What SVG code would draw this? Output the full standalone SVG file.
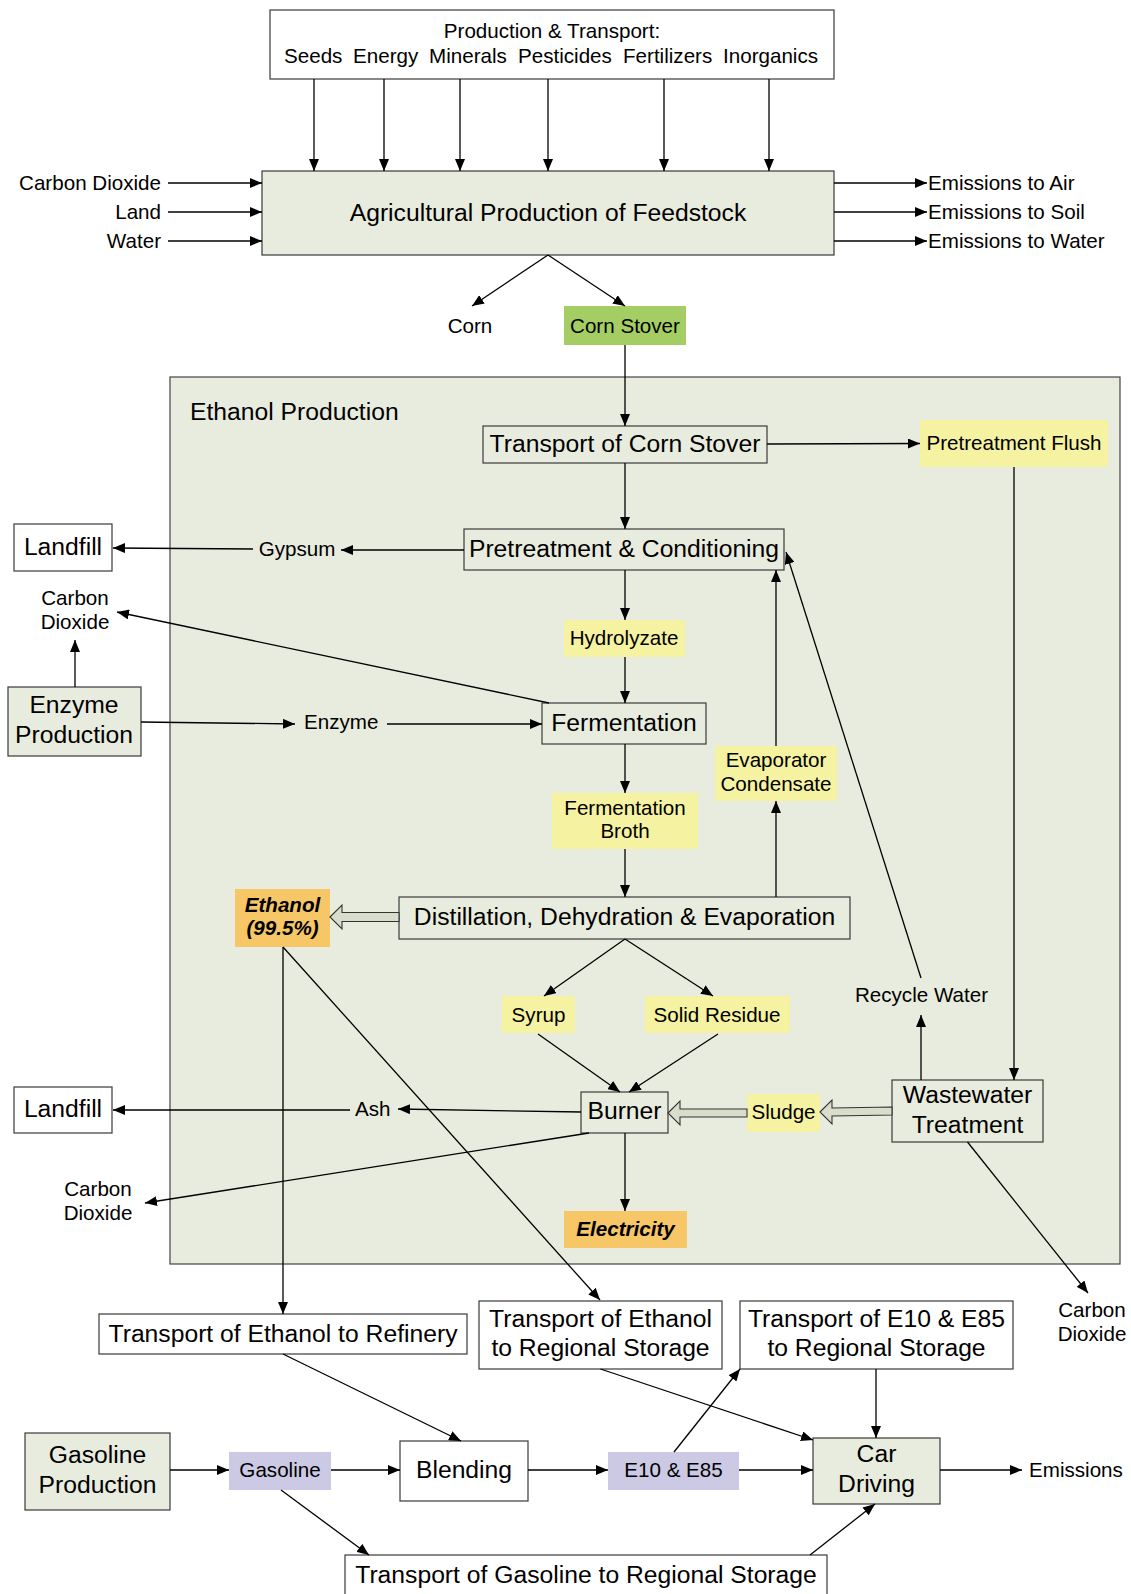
<svg xmlns="http://www.w3.org/2000/svg" width="1131" height="1594" viewBox="0 0 1131 1594">
<style>
text{font-family:"Liberation Sans",Arial,sans-serif;fill:#000}
.s{font-size:20.6px}
.b{font-size:24.7px}
.c{text-anchor:middle}
.r{text-anchor:end}
.bi{font-weight:bold;font-style:italic}
.box{stroke:#3a3a3a;stroke-width:1.2}
.w{fill:#fff}
.g{fill:#e8ecde}
.y{fill:#f5f2a1}
.gr{fill:#a4ce63}
.o{fill:#f7c667}
.p{fill:#ccc9e4}
.ln{stroke:#000;stroke-width:1.3;fill:none}
.ar{marker-end:url(#ah)}
.blk{fill:#d9ddcb;stroke:#333;stroke-width:1.1}
</style>
<defs>
<marker id="ah" viewBox="0 0 12 10" refX="12" refY="5" markerWidth="12" markerHeight="10" orient="auto" markerUnits="userSpaceOnUse">
<path d="M0,0 L12,5 L0,10 z" fill="#000"/>
</marker>
</defs>
<rect width="1131" height="1594" fill="#fff"/>

<g id="ethanol-production">
<rect x="170" y="377" width="950" height="887" class="g" stroke="#444" stroke-width="1.2"/>
<text x="190" y="420" class="b">Ethanol Production</text>
</g>

<g id="inputs-top">
<rect x="270" y="10" width="564" height="69" class="box w"/>
<text x="552" y="38" class="s c">Production &amp; Transport:</text>
<text x="284" y="63" class="s">Seeds</text>
<text x="353" y="63" class="s">Energy</text>
<text x="429" y="63" class="s">Minerals</text>
<text x="518" y="63" class="s">Pesticides</text>
<text x="623" y="63" class="s">Fertilizers</text>
<text x="723" y="63" class="s">Inorganics</text>
</g>

<g id="agricultural-production">
<rect x="262" y="171" width="572" height="84" class="box g"/>
<text x="548" y="221" class="b c">Agricultural Production of Feedstock</text>
</g>

<g id="labels-left-top">
<text x="161" y="190" class="s r">Carbon Dioxide</text>
<text x="161" y="219" class="s r">Land</text>
<text x="161" y="248" class="s r">Water</text>
</g>
<g id="labels-right-top">
<text x="928" y="190" class="s">Emissions to Air</text>
<text x="928" y="219" class="s">Emissions to Soil</text>
<text x="928" y="248" class="s">Emissions to Water</text>
</g>

<g id="corn"><text x="470" y="333" class="s c">Corn</text></g>
<g id="corn-stover">
<rect x="564" y="306" width="122" height="39" class="gr"/>
<text x="625" y="333" class="s c">Corn Stover</text>
</g>

<g id="transport-corn-stover">
<rect x="483" y="426" width="284" height="37" class="box g"/>
<text x="625" y="452" class="b c">Transport of Corn Stover</text>
</g>
<g id="pretreatment-flush">
<rect x="920" y="420" width="188" height="47" class="y"/>
<text x="1014" y="450" class="s c">Pretreatment Flush</text>
</g>
<g id="pretreatment">
<rect x="464" y="529" width="320" height="41" class="box g"/>
<text x="624" y="557" class="b c">Pretreatment &amp; Conditioning</text>
</g>
<g id="gypsum"><text x="297" y="556" class="s c">Gypsum</text></g>
<g id="landfill-1">
<rect x="14" y="524" width="98" height="47" class="box w"/>
<text x="63" y="555" class="b c">Landfill</text>
</g>
<g id="co2-1">
<text x="75" y="605" class="s c">Carbon</text>
<text x="75" y="629" class="s c">Dioxide</text>
</g>
<g id="hydrolyzate">
<rect x="564" y="620" width="121" height="37" class="y"/>
<text x="624" y="645" class="s c">Hydrolyzate</text>
</g>
<g id="enzyme-production">
<rect x="8" y="687" width="133" height="69" class="box g"/>
<text x="74" y="713" class="b c">Enzyme</text>
<text x="74" y="743" class="b c">Production</text>
</g>
<g id="enzyme"><text x="304" y="729" class="s">Enzyme</text></g>
<g id="fermentation">
<rect x="542" y="703" width="164" height="41" class="box g"/>
<text x="624" y="731" class="b c">Fermentation</text>
</g>
<g id="evaporator-condensate">
<rect x="715" y="746" width="122" height="55" class="y"/>
<text x="776" y="767" class="s c">Evaporator</text>
<text x="776" y="791" class="s c">Condensate</text>
</g>
<g id="fermentation-broth">
<rect x="552" y="793" width="146" height="56" class="y"/>
<text x="625" y="815" class="s c">Fermentation</text>
<text x="625" y="838" class="s c">Broth</text>
</g>
<g id="ethanol">
<rect x="235" y="889" width="95" height="58" class="o"/>
<text x="282.5" y="912" class="s c bi">Ethanol</text>
<text x="282.5" y="935" class="s c bi">(99.5%)</text>
</g>
<g id="distillation">
<rect x="399" y="897" width="451" height="42" class="box g"/>
<text x="624.5" y="925" class="b c">Distillation, Dehydration &amp; Evaporation</text>
</g>
<g id="syrup">
<rect x="502" y="996" width="73" height="37" class="y"/>
<text x="538.5" y="1022" class="s c">Syrup</text>
</g>
<g id="solid-residue">
<rect x="645" y="996" width="145" height="37" class="y"/>
<text x="717" y="1022" class="s c">Solid Residue</text>
</g>
<g id="recycle-water"><text x="921.5" y="1002" class="s c">Recycle Water</text></g>
<g id="burner">
<rect x="581" y="1092" width="87" height="41" class="box g"/>
<text x="624.5" y="1119" class="b c">Burner</text>
</g>
<g id="sludge">
<rect x="747" y="1094" width="73" height="38" class="y"/>
<text x="783.5" y="1119" class="s c">Sludge</text>
</g>
<g id="wastewater">
<rect x="892" y="1080" width="151" height="62" class="box g"/>
<text x="967.5" y="1103" class="b c">Wastewater</text>
<text x="967.5" y="1133" class="b c">Treatment</text>
</g>
<g id="ash"><text x="355" y="1116" class="s">Ash</text></g>
<g id="landfill-2">
<rect x="14" y="1087" width="98" height="46" class="box w"/>
<text x="63" y="1117" class="b c">Landfill</text>
</g>
<g id="co2-2">
<text x="98" y="1196" class="s c">Carbon</text>
<text x="98" y="1220" class="s c">Dioxide</text>
</g>
<g id="electricity">
<rect x="564" y="1211" width="123" height="37" class="o"/>
<text x="625.5" y="1236" class="s c bi">Electricity</text>
</g>
<g id="co2-3">
<text x="1092" y="1317" class="s c">Carbon</text>
<text x="1092" y="1341" class="s c">Dioxide</text>
</g>

<g id="transport-refinery">
<rect x="99" y="1314" width="368" height="40" class="box w"/>
<text x="283" y="1342" class="b c">Transport of Ethanol to Refinery</text>
</g>
<g id="transport-ethanol-regional">
<rect x="479" y="1301" width="243" height="68" class="box w"/>
<text x="600.5" y="1327" class="b c">Transport of Ethanol</text>
<text x="600.5" y="1356" class="b c">to Regional Storage</text>
</g>
<g id="transport-e10">
<rect x="740" y="1301" width="273" height="68" class="box w"/>
<text x="876.5" y="1327" class="b c">Transport of E10 &amp; E85</text>
<text x="876.5" y="1356" class="b c">to Regional Storage</text>
</g>
<g id="gasoline-production">
<rect x="25" y="1433" width="145" height="77" class="box g"/>
<text x="97.5" y="1463" class="b c">Gasoline</text>
<text x="97.5" y="1493" class="b c">Production</text>
</g>
<g id="gasoline">
<rect x="229" y="1452" width="102" height="38" class="p"/>
<text x="280" y="1477" class="s c">Gasoline</text>
</g>
<g id="blending">
<rect x="400" y="1441" width="128" height="60" class="box w"/>
<text x="464" y="1478" class="b c">Blending</text>
</g>
<g id="e10-e85">
<rect x="608" y="1452" width="131" height="38" class="p"/>
<text x="673.5" y="1477" class="s c">E10 &amp; E85</text>
</g>
<g id="car-driving">
<rect x="813" y="1438" width="127" height="66" class="box g"/>
<text x="876.5" y="1462" class="b c">Car</text>
<text x="876.5" y="1492" class="b c">Driving</text>
</g>
<g id="emissions"><text x="1029" y="1477" class="s">Emissions</text></g>
<g id="transport-gasoline">
<rect x="345" y="1555" width="482" height="50" class="box w"/>
<text x="586" y="1583" class="b c">Transport of Gasoline to Regional Storage</text>
</g>

<g id="connectors">
<path class="ln ar" d="M314,79 V171"/>
<path class="ln ar" d="M384,79 V171"/>
<path class="ln ar" d="M460,79 V171"/>
<path class="ln ar" d="M548,79 V171"/>
<path class="ln ar" d="M664,79 V171"/>
<path class="ln ar" d="M769,79 V171"/>
<path class="ln ar" d="M168,183 H262"/>
<path class="ln ar" d="M168,212 H262"/>
<path class="ln ar" d="M168,241 H262"/>
<path class="ln ar" d="M834,183 H927"/>
<path class="ln ar" d="M834,212 H927"/>
<path class="ln ar" d="M834,241 H927"/>
<path class="ln ar" d="M548,255 L472,306"/>
<path class="ln ar" d="M548,255 L625,306"/>
<path class="ln ar" d="M625,345 V426"/>
<path class="ln ar" d="M767,444 L920,443.5"/>
<path class="ln ar" d="M625,463 V529"/>
<path class="ln ar" d="M464,550 H341"/>
<path class="ln ar" d="M253,549 L113,548"/>
<path class="ln ar" d="M625,570 V620"/>
<path class="ln ar" d="M625,657 V703"/>
<path class="ln ar" d="M549,703 L117,612"/>
<path class="ln ar" d="M75,687 V640"/>
<path class="ln ar" d="M141,722 L295,724"/>
<path class="ln ar" d="M387,724 H542"/>
<path class="ln ar" d="M625,744 V793"/>
<path class="ln ar" d="M625,849 V897"/>
<path class="ln ar" d="M776,897 V801"/>
<path class="ln ar" d="M776,746 V570"/>
<path class="ln ar" d="M921,978 L786,552"/>
<path class="ln ar" d="M1014,467 V1080"/>
<path class="ln ar" d="M921,1080 V1015"/>
<path class="ln ar" d="M625,939 L544,996"/>
<path class="ln ar" d="M625,939 L713,996"/>
<path class="ln ar" d="M538,1034 L620,1092"/>
<path class="ln ar" d="M718,1034 L629,1092"/>
<path class="ln ar" d="M581,1112 L398,1109"/>
<path class="ln ar" d="M350,1110 H113"/>
<path class="ln ar" d="M589,1133 L145,1203"/>
<path class="ln ar" d="M625,1133 V1211"/>
<path class="ln ar" d="M967.5,1142 L1088,1293"/>
<path class="ln ar" d="M283,947 V1314"/>
<path class="ln ar" d="M283,947 L600,1300"/>
<path class="ln ar" d="M283,1354 L461,1441"/>
<path class="ln ar" d="M600.5,1369 L813,1440"/>
<path class="ln ar" d="M674,1452 L740,1369"/>
<path class="ln ar" d="M876,1369 V1438"/>
<path class="ln ar" d="M170,1470 H229"/>
<path class="ln ar" d="M331,1470 H400"/>
<path class="ln ar" d="M528,1470 H608"/>
<path class="ln ar" d="M739,1470 H813"/>
<path class="ln ar" d="M940,1470 H1022"/>
<path class="ln ar" d="M281,1490 L369,1555"/>
<path class="ln ar" d="M810,1555 L875,1504"/>
<polygon class="blk" points="330,917 342,905 342,912.5 399,912.5 399,921.5 342,921.5 342,929"/>
<polygon class="blk" points="668,1113 680,1101 680,1109 747,1109 747,1117 680,1117 680,1125"/>
<polygon class="blk" points="820,1112 832,1100 832,1108 892,1107 892,1115 832,1116 832,1124"/>
</g>
</svg>
